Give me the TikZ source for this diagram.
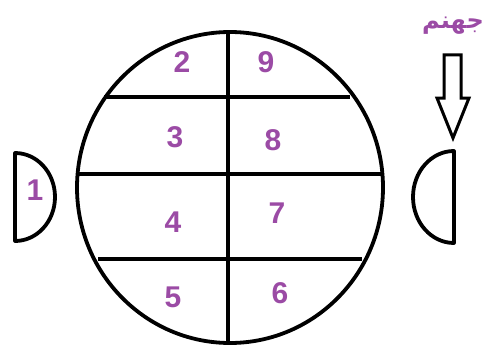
\documentclass[tikz,border=0pt]{standalone}
\usepackage{fontspec}
\setmainfont{Liberation Sans}
\newfontfamily\arabicfont[Script=Arabic]{DejaVu Sans}
\TeXXeTstate=1
\definecolor{numpurple}{RGB}{155,75,165}
\begin{document}
\begin{tikzpicture}[x=1pt,y=-1pt,
  shape line/.style={line width=3.8pt, line join=round},
  num/.style={text=numpurple, font=\fontsize{30}{30}\selectfont\bfseries, inner sep=0pt}]
\useasboundingbox (0,0) rectangle (487,345);
% internal lines
\draw[shape line] (228,32) -- (228,343);
\draw[shape line] (104,97) -- (350,97);
\draw[shape line] (77,174) -- (383,174);
\draw[shape line] (98,259) -- (362,259);
% circle
\draw[shape line] (230,187.5) ellipse [x radius=153, y radius=155.5];
% numbers
\node[num] (n2) at (182,62) {2};
\node[num] (n9) at (266,62) {9};
\node[num] (n3) at (175,137) {3};
\node[num] (n8) at (273,140) {8};
\node[num] (n4) at (173,222) {4};
\node[num] (n7) at (277,213) {7};
\node[num] (n5) at (173,297) {5};
\node[num] (n6) at (280,293) {6};
% left half disk
\draw[shape line] (15,153) -- (15,241) arc[start angle=90, end angle=-90, x radius=40, y radius=44] -- cycle;
\node[num] (n1) at (35,190) {1};
% right half disk
\draw[shape line] (454,151) -- (454,243) arc[start angle=90, end angle=270, x radius=41, y radius=46] -- cycle;
% arrow
\draw[line width=3pt, line join=miter] (444,55) -- (461,55) -- (461,98) -- (469,98) -- (453,138) -- (437,98) -- (444,98) -- cycle;
% label
\node[text=numpurple, font=\arabicfont\bfseries\fontsize{24}{24}\selectfont, inner sep=0pt] (lbl) at (453,26) {\beginR جهنم\endR};
\end{tikzpicture}
\end{document}
